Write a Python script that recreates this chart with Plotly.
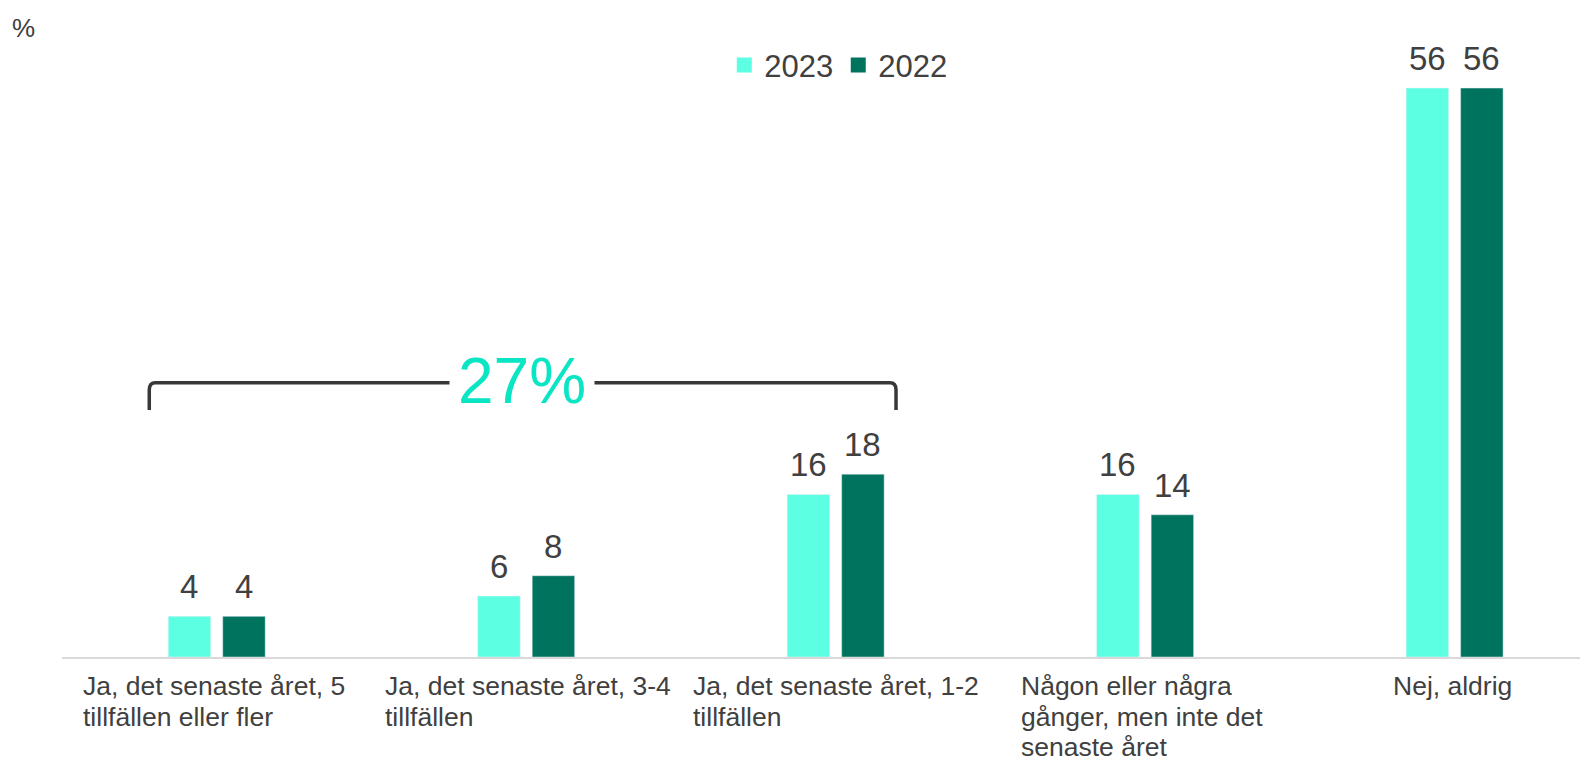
import plotly.graph_objects as go

categories = [
    ["Ja, det senaste året, 5", "tillfällen eller fler"],
    ["Ja, det senaste året, 3-4", "tillfällen"],
    ["Ja, det senaste året, 1-2", "tillfällen"],
    ["Någon eller några", "gånger, men inte det", "senaste året"],
    ["Nej, aldrig"],
]
cat_keys = ["c1", "c2", "c3", "c4", "c5"]
values_2023 = [4, 6, 16, 16, 56]
values_2022 = [4, 8, 18, 14, 56]
bracket_total = "27%"

# label offsets in px from category centre (left edge of text)
label_shift = [-136, -143, -145, -126, -64]

TEXT = "#404040"
FONT = "Liberation Sans, Arial, sans-serif"
C2023 = "#5CFFE1"
C2022 = "#00735F"

fig = go.Figure()
fig.add_trace(go.Bar(x=cat_keys, y=values_2023, name="2023",
                     marker_color=C2023, showlegend=False))
fig.add_trace(go.Bar(x=cat_keys, y=values_2022, name="2022",
                     marker_color=C2022, showlegend=False))
# legend entries with bigger square swatches
for nm, col in [("2023", C2023), ("2022", C2022)]:
    fig.add_trace(go.Scatter(x=[None], y=[None], mode="markers", name=nm,
                             marker=dict(symbol="square", size=15, color=col)))

# value labels above bars
for vals, off in [(values_2023, -27.25), (values_2022, 27.25)]:
    for k, v in zip(cat_keys, vals):
        fig.add_annotation(x=k, y=v, xref="x", yref="y", text=str(v), showarrow=False,
                           xshift=off, yanchor="bottom", yshift=9,
                           font=dict(size=33, color=TEXT, family=FONT))

# x labels as left-aligned annotations under each group, one per line
for i, lines in enumerate(categories):
    for j, line in enumerate(lines):
        fig.add_annotation(
            x=cat_keys[i], y=0, xref="x", yref="y", text=line, showarrow=False,
            xanchor="left", yanchor="top", xshift=label_shift[i], yshift=-12 - 30.5 * j,
            font=dict(size=26.5, color=TEXT, family=FONT),
        )

# bracket over the first three groups
x0, x1, ytop, ybot = -0.218, 2.195, 27.0, 24.3
dx, dy = 0.02, 0.7
path = (f"M {x0},{ybot} L {x0},{ytop - dy} Q {x0},{ytop} {x0 + dx},{ytop} "
        f"L {x1 - dx},{ytop} Q {x1},{ytop} {x1},{ytop - dy} L {x1},{ybot}")
fig.add_shape(type="path", path=path, xref="x", yref="y",
              line=dict(color="#383838", width=3.5))
fig.add_annotation(
    x=0.987, y=27.2, xref="x", yref="y", text=bracket_total, showarrow=False,
    bgcolor="white", borderpad=8,
    font=dict(size=64, color="#0AE6C3", family=FONT),
)

fig.add_annotation(
    x=0, y=1, xref="paper", yref="paper", text="%", showarrow=False,
    xanchor="left", yanchor="middle", xshift=-52, yshift=-8,
    font=dict(size=26, color=TEXT, family=FONT),
)

fig.update_layout(
    width=1588, height=762,
    margin=dict(l=54, r=8, t=12, b=113),
    paper_bgcolor="white", plot_bgcolor="white",
    font=dict(family=FONT, color=TEXT),
    barmode="group", bargap=0.648, bargroupgap=0.22,
    showlegend=True,
    legend=dict(orientation="h", x=0.434, y=0.929, xanchor="left", yanchor="middle",
                font=dict(size=31, color=TEXT), itemwidth=30, itemsizing="trace"),
    xaxis=dict(type="category", range=[-0.5, 4.431], showticklabels=False, ticks="",
               showline=True, linecolor="#D9D9D9", linewidth=2, showgrid=False,
               zeroline=False, fixedrange=True),
    yaxis=dict(range=[0, 62.7], showticklabels=False, showgrid=False,
               zeroline=False, showline=False, fixedrange=True),
)

fig.write_html("out.html")
